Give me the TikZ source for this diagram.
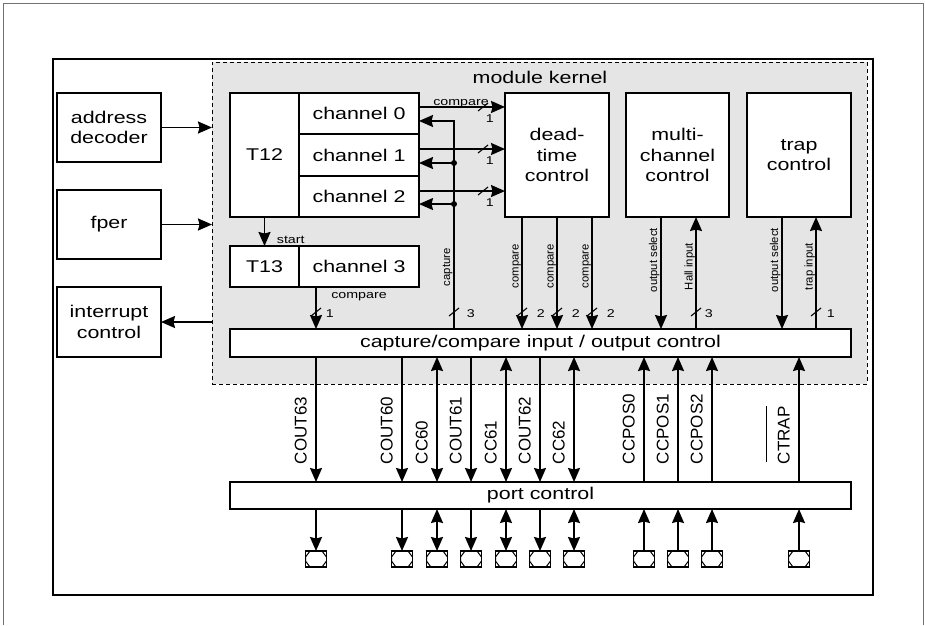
\documentclass[tikz,border=0pt]{standalone}
\usepackage{fontspec}
\setmainfont{Liberation Sans}
\newfontfamily\widesans[FakeStretch=1.26]{Liberation Sans}
\usetikzlibrary{arrows.meta}
\newcommand\lblbig{\widesans\fontsize{17}{20.5}\selectfont}
\newcommand\lblsmall{\widesans\fontsize{11.3}{13}\selectfont}
\newcommand\rotbig{\fontsize{17}{20}\selectfont}
\newcommand\rotsmall{\fontsize{11.3}{13}\selectfont}
\newcommand\busmark[1]{\draw[line width=1.1pt, shift={(#1)}] (-5,4) -- (5,-4);}
\begin{document}
\begin{tikzpicture}[x=1pt, y=-1pt, line width=1.8pt,
  >={Stealth[length=14pt,width=12pt,inset=1.5pt]},
  box/.style={draw, fill=white, inner sep=0pt, outer sep=0pt, align=center, font=\lblbig},
  small/.style={inner sep=0pt, font=\lblsmall},
  vsmall/.style={rotate=90, anchor=base west, inner sep=0pt, font=\rotsmall},
  vbig/.style={rotate=90, anchor=base west, inner sep=0pt, font=\rotbig},
  adown/.style={-{Stealth[length=14pt,width=12pt,inset=1.5pt]}},
  aup/.style={{Stealth[length=14pt,width=12pt,inset=1.5pt]}-},
  aboth/.style={{Stealth[length=14pt,width=12pt,inset=1.5pt]}-{Stealth[length=14pt,width=12pt,inset=1.5pt]}},
  pin/.style={draw, fill=white, minimum width=21pt, minimum height=16pt, inner sep=0pt,
    outer sep=0pt, line width=1.4pt,
    path picture={\draw[line width=1pt] ([shift={(-6pt,8pt)}]path picture bounding box.center)
      -- ++(12pt,0pt) -- ++(4.5pt,-6pt) -- ++(0pt,-4pt) -- ++(-4.5pt,-6pt) -- ++(-12pt,0pt)
      -- ++(-4.5pt,6pt) -- ++(0pt,4pt) -- cycle;}}
]
\useasboundingbox (0,0) rectangle (925,625);

% page frame and diagram frame
\draw[black!55, line width=1pt] (3,625) -- (3,3) -- (923,3) -- (923,625);
\draw[line width=1.5pt] (53,59) rectangle (873,595);

% module kernel area
\node[draw, dash pattern=on 4pt off 3pt, fill=black!10, line width=1pt, inner sep=0pt,
  outer sep=0pt, minimum width=655pt, minimum height=322pt] (kern) at (539.5,223) {};
\node[font=\lblbig] (kernlbl) at (540,77) {module kernel};

% peripheral blocks on the left
\node[box, minimum width=104pt, minimum height=69pt] (addr) at (109,127.5) {address\\decoder};
\node[box, minimum width=104pt, minimum height=69pt] (fper) at (109,224.5) {fper};
\node[box, minimum width=104pt, minimum height=70pt] (intr) at (109,322) {interrupt\\control};
\draw[->] (addr.east) -- (addr.east -| kern.west);
\draw[->] (fper.east) -- (fper.east -| kern.west);
\draw[->] (intr.east -| kern.west) -- (intr.east);

% timers and channels
\node[box, minimum width=69pt, minimum height=124pt] (t12) at (264.5,155) {T12};
\node[box, minimum width=120pt, minimum height=41.33pt] (ch0) at (359,113.67) {channel 0};
\node[box, minimum width=120pt, minimum height=41.33pt] (ch1) at (359,155) {channel 1};
\node[box, minimum width=120pt, minimum height=41.33pt] (ch2) at (359,196.33) {channel 2};
\node[box, minimum width=69pt, minimum height=41pt] (t13) at (264.5,266.5) {T13};
\node[box, minimum width=120pt, minimum height=41pt] (ch3) at (359,266.5) {channel 3};

% control blocks
\node[box, minimum width=104pt, minimum height=124pt] (dt) at (557,155) {dead-\\time\\control};
\node[box, minimum width=103pt, minimum height=124pt] (mcc) at (677.5,155) {multi-\\channel\\control};
\node[box, minimum width=104pt, minimum height=124pt] (trap) at (799,155) {trap\\control};

% capture/compare and port blocks
\node[box, minimum width=621pt, minimum height=28pt] (ccu) at (540.5,343) {capture/compare input / output control};
\node[box, minimum width=621pt, minimum height=27pt] (port) at (540.5,495.5) {port control};

% T12 starts T13
\draw[->] (t12.south) -- (t12.south |- t13.north);
\node[small, anchor=base west] (startlbl) at (276,243) {start};

% compare outputs of channels 0..2
\coordinate (c0out) at ([yshift=6.7pt]ch0.east);
\coordinate (c1out) at ([yshift=6pt]ch1.east);
\coordinate (c2out) at ([yshift=5.3pt]ch2.east);
\draw[->] (c0out) -- (c0out -| dt.west);
\draw[->] (c1out) -- (c1out -| dt.west);
\draw[->] (c2out) -- (c2out -| dt.west);
\node[small, anchor=base] (cmp0lbl) at (461,105) {compare};
\busmark{483,107}
\busmark{483,149}
\busmark{483,191}
\node[small, anchor=base west] (n0) at (485,122) {1};
\node[small, anchor=base west] (n1) at (485,164) {1};
\node[small, anchor=base west] (n2) at (485,206) {1};

% capture inputs of channels 0..2
\coordinate (capx) at (454,0);
\coordinate (c0in) at ([yshift=-7.3pt]ch0.east);
\coordinate (c1in) at ([yshift=-8pt]ch1.east);
\coordinate (c2in) at ([yshift=-7.7pt]ch2.east);
\draw[->] (capx |- ccu.north) -- (capx |- c0in) -- (c0in);
\draw[->] (capx |- c1in) -- (c1in);
\draw[->] (capx |- c2in) -- (c2in);
\fill (capx |- c1in) circle (3pt);
\fill (capx |- c2in) circle (3pt);
\node[vsmall] (caplbl) at (450,287) {capture};
\busmark{454,312}
\node[small, anchor=base west] (n3) at (466,317) {3};

% channel 3 compare
\draw[->] ([xshift=-43pt]ch3.south) -- ([xshift=-43pt]ch3.south |- ccu.north);
\node[small, anchor=base] (cmp3lbl) at (359,298) {compare};
\busmark{316,312}
\node[small, anchor=base west] (n4) at (325,317) {1};

% dead-time compare outputs
\foreach \dx/\nx [count=\i] in {-35/536, 0/571, 35/606} {
  \draw[->] ([xshift=\dx pt]dt.south) -- ([xshift=\dx pt]dt.south |- ccu.north);
  \node[vsmall] (dtlbl\i) at (557+\dx-3.5,289) {compare};
  \busmark{557+\dx,312}
  \node[small, anchor=base west] (dtn\i) at (\nx,317) {2};
}

% multi-channel control signals
\draw[->] ([xshift=-16.5pt]mcc.south) -- ([xshift=-16.5pt]mcc.south |- ccu.north);
\node[vsmall] (oslbl1) at (657,293) {output select};
\draw[->] ([xshift=18.5pt]mcc.south |- ccu.north) -- ([xshift=18.5pt]mcc.south);
\node[vsmall] (halllbl) at (692.5,291) {Hall input};
\busmark{696,312}
\node[small, anchor=base west] (n5) at (704,317) {3};

% trap control signals
\draw[->] ([xshift=-17pt]trap.south) -- ([xshift=-17pt]trap.south |- ccu.north);
\node[vsmall] (oslbl2) at (778,293) {output select};
\draw[->] ([xshift=17pt]trap.south |- ccu.north) -- ([xshift=17pt]trap.south);
\node[vsmall] (traplbl) at (812.5,291) {trap input};
\busmark{816,312}
\node[small, anchor=base west] (n6) at (826,317) {1};

% port signals and pins
\foreach \x/\lab/\dir [count=\i] in {316/COUT63/adown, 402/COUT60/adown, 437/CC60/aboth,
    471/COUT61/adown, 506/CC61/aboth, 540/COUT62/adown, 574/CC62/aboth,
    644/CCPOS0/aup, 678/CCPOS1/aup, 712/CCPOS2/aup, 799/CTRAP/aup} {
  \node[pin] (pin\i) at (\x,559) {};
  \draw[\dir] (pin\i |- ccu.south) -- (pin\i |- port.north);
  \draw[\dir] (pin\i |- port.south) -- (pin\i.north);
  \node[vbig] (plbl\i) at (\x-9.5,465) {\lab};
}
\draw[line width=1.3pt] ([xshift=-10pt,yshift=3pt]plbl11.north west) -- ([xshift=-10pt]plbl11.north east);
\end{tikzpicture}
\end{document}
